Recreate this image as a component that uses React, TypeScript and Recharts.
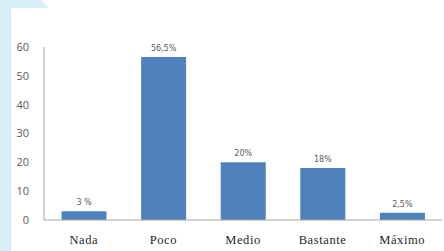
import { BarChart, Bar, XAxis, YAxis, LabelList } from 'recharts';

const categories = ['Nada', 'Poco', 'Medio', 'Bastante', 'Máximo'];
const values = [3, 56.5, 20, 18, 2.5];
const valueLabels = ['3 %', '56,5%', '20%', '18%', '2,5%'];
const yTicks = [0, 10, 20, 30, 40, 50, 60];

const data = categories.map((name, i) => ({ name, value: values[i], label: valueLabels[i] }));

export default function App() {
  return (
    <div style={{ position: 'absolute', left: 0, top: 0, width: 444, height: 251, background: '#fff', overflow: 'hidden' }}>
      {/* fondo azul claro a la izquierda y franja superior */}
      <div style={{ position: 'absolute', left: 0, top: 0, width: 11, height: 251, background: '#d7eff9' }} />
      <div
        style={{
          position: 'absolute', left: 0, top: 0, width: 49, height: 8, background: '#d7eff9',
          clipPath: 'polygon(0 0, 41px 0, 49px 8px, 0 8px)',
        }}
      />
      <div style={{ position: 'absolute', left: 0, top: 0 }}>
        <BarChart width={444} height={251} data={data} margin={{ top: 47, right: 2, left: 0, bottom: 1 }} barCategoryGap="22%">
          <XAxis
            dataKey="name"
            height={30}
            axisLine={{ stroke: '#a6a6a6' }}
            tickLine={false}
            tickSize={13}
            tickMargin={2}
            tick={{ fontFamily: '"Liberation Serif", "DejaVu Serif", serif', fontSize: 12.5, fill: '#262626', letterSpacing: 0.6 }}
            interval={0}
          />
          <YAxis
            width={44}
            domain={[0, 60]}
            ticks={yTicks}
            axisLine={{ stroke: '#a6a6a6' }}
            tickLine={false}
            tickSize={13}
            tickMargin={2}
            tick={{ fontFamily: '"Open Sans", "DejaVu Sans", sans-serif', fontSize: 11, fill: '#595959' }}
          />
          <Bar dataKey="value" fill="#4f81bd" isAnimationActive={false}>
            <LabelList
              dataKey="label"
              position="top"
              offset={6}
              style={{ fontFamily: '"DejaVu Sans", sans-serif', fontSize: 8, fill: '#595959' }}
            />
          </Bar>
        </BarChart>
      </div>
    </div>
  );
}
